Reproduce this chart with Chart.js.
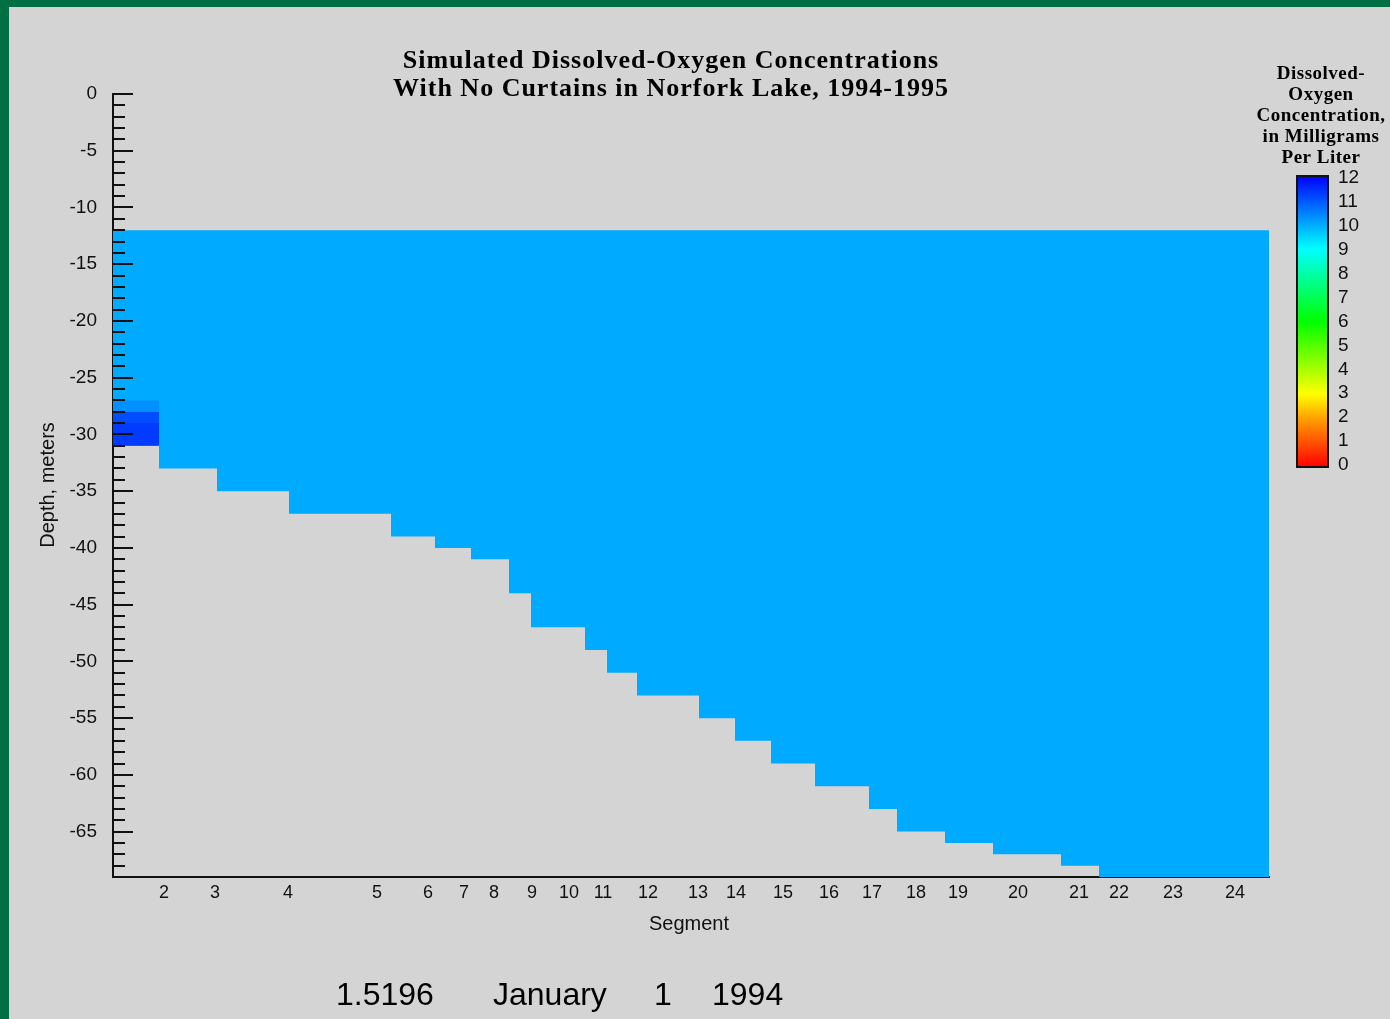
<!DOCTYPE html>
<html>
<head>
<meta charset="utf-8">
<script src="https://cdn.jsdelivr.net/npm/chart.js@4.4.0/dist/chart.umd.min.js"></script>
<style>
  html, body { margin: 0; padding: 0; background: #006f44; overflow: hidden; }
  #paper { position: absolute; left: 9px; top: 7px; right: 0; bottom: 0; background: #d4d4d4; }
  canvas { position: absolute; left: 0; top: 0; }
</style>
</head>
<body>
<div id="paper"></div>
<canvas id="doChart" width="1390" height="1019"></canvas>
<script>
// left edge of each model column, distance along the lake (last value = downstream end)
const segEdges = [0, 4.6, 10.4, 17.6, 27.8, 32.2, 35.8, 39.6, 41.8, 47.2, 49.4, 52.4, 58.6, 62.2, 65.8, 70.2, 75.6, 78.4, 83.2, 88.0, 94.8, 98.6, 115.6];
// bottom elevation of each column, meters
const segBottom = [-31, -33, -35, -37, -39, -40, -41, -44, -47, -49, -51, -53, -55, -57, -59, -61, -63, -65, -66, -67, -68, -69];
const segLabels = ['2', '3', '4', '5', '6', '7', '8', '9', '10', '11', '12', '13', '14', '15', '16', '17', '18', '19', '20', '21', '22', '23', '24'];
const segLabelPos = [5.1, 10.2, 17.5, 26.4, 31.5, 35.1, 38.1, 41.9, 45.6, 49.0, 53.5, 58.5, 62.3, 67.0, 71.6, 75.9, 80.3, 84.5, 90.5, 96.6, 100.6, 106.0, 112.2];

const waterSurface = -12;
const bulkDO = 10.0;

// segment 1, deep layers
const seg1LayerTop = [-27, -28, -29];
const seg1LayerBottom = [-28, -29, -31];
const seg1LayerDO = [10.3, 11.1, 11.3];

const depthTicks = [0, -5, -10, -15, -20, -25, -30, -35, -40, -45, -50, -55, -60, -65];
const cbarTicks = [0, 1, 2, 3, 4, 5, 6, 7, 8, 9, 10, 11, 12];

// colour scale of the legend bar
const cmapVals = [0, 2, 3, 6, 9, 12];
const cmapColors = ['#ff0000', '#ffa000', '#ffff00', '#00ff00', '#00ffff', '#0000ff'];

function hexToRgb(h) {
    return [parseInt(h.slice(1, 3), 16), parseInt(h.slice(3, 5), 16), parseInt(h.slice(5, 7), 16)];
}

function doColor(v) {
    if (v <= cmapVals[0]) return cmapColors[0];
    for (let i = 1; i < cmapVals.length; i++) {
        if (v <= cmapVals[i]) {
            const t = (v - cmapVals[i - 1]) / (cmapVals[i] - cmapVals[i - 1]);
            const a = hexToRgb(cmapColors[i - 1]), b = hexToRgb(cmapColors[i]);
            const c = a.map((x, k) => Math.round(x + (b[k] - x) * t));
            return `rgb(${c[0]}, ${c[1]}, ${c[2]})`;
        }
    }
    return cmapColors[cmapColors.length - 1];
}

const bulkPoints = segBottom.map((d, i) => ({ x: segEdges[i], y: d }));
bulkPoints.push({ x: segEdges[segEdges.length - 1], y: segBottom[segBottom.length - 1] });

const datasets = [];
seg1LayerDO.forEach((v, i) => {
    datasets.push({
        data: [{ x: segEdges[0], y: seg1LayerBottom[i] }, { x: segEdges[1], y: seg1LayerBottom[i] }],
        fill: { value: seg1LayerTop[i] },
        backgroundColor: doColor(v),
        borderColor: 'rgba(0,0,0,0)',
        borderWidth: 0,
        pointRadius: 0,
        order: 1
    });
});
datasets.push({
    data: bulkPoints,
    stepped: true,
    fill: { value: waterSurface },
    backgroundColor: doColor(bulkDO),
    borderColor: 'rgba(0,0,0,0)',
    borderWidth: 0,
    pointRadius: 0,
    order: 2
});

const ink = '#111';
const sans = '"Liberation Sans", Arial, sans-serif';
const serif = '"Liberation Serif", "Times New Roman", serif';

const overlay = {
    id: 'overlay',
    afterDatasetsDraw(chart) {
        const { ctx, chartArea, scales } = chart;
        ctx.save();
        ctx.strokeStyle = ink;
        ctx.lineWidth = 2;
        for (let d = 0; d > scales.y.min; d--) {
            const y = Math.round(scales.y.getPixelForValue(d));
            const len = d % 5 === 0 ? 20 : 12;
            ctx.beginPath();
            ctx.moveTo(chartArea.left, y);
            ctx.lineTo(chartArea.left + len, y);
            ctx.stroke();
        }
        ctx.restore();
    },
    afterDraw(chart) {
        const { ctx, chartArea } = chart;
        ctx.save();
        ctx.fillStyle = '#000';

        // title
        ctx.font = `bold 26px ${serif}`;
        ctx.letterSpacing = '1px';
        ctx.textAlign = 'center';
        ctx.textBaseline = 'alphabetic';
        ctx.fillText('Simulated Dissolved-Oxygen Concentrations', 671, 68);
        ctx.fillText('With No Curtains in Norfork Lake, 1994-1995', 671, 96);

        // legend title
        ctx.font = `bold 19px ${serif}`;
        ctx.letterSpacing = '0.5px';
        ['Dissolved-', 'Oxygen', 'Concentration,', 'in Milligrams', 'Per Liter'].forEach((s, i) => {
            ctx.fillText(s, 1321, 79 + i * 21);
        });
        ctx.letterSpacing = '0px';

        // colour bar
        const cb = { x: 1297, y: 176, w: 31, h: 291 };
        const g = ctx.createLinearGradient(0, cb.y + cb.h, 0, cb.y);
        cmapVals.forEach((v, i) => g.addColorStop(v / 12, cmapColors[i]));
        ctx.fillStyle = g;
        ctx.fillRect(cb.x, cb.y, cb.w, cb.h);
        ctx.strokeStyle = ink;
        ctx.lineWidth = 2;
        ctx.strokeRect(cb.x, cb.y, cb.w, cb.h);
        ctx.fillStyle = ink;
        ctx.font = `19px ${sans}`;
        ctx.textAlign = 'left';
        ctx.textBaseline = 'middle';
        cbarTicks.forEach(v => {
            ctx.fillText(String(v), 1338, 465 - v * (287 / 12));
        });

        // axis titles
        ctx.font = `20px ${sans}`;
        ctx.textAlign = 'center';
        ctx.fillText('Segment', (chartArea.left + chartArea.right) / 2 - 2, 924);
        ctx.save();
        ctx.translate(48, 485);
        ctx.rotate(-Math.PI / 2);
        ctx.fillText('Depth, meters', 0, 0);
        ctx.restore();

        // time stamp
        ctx.font = `32px ${sans}`;
        ctx.textAlign = 'left';
        ctx.textBaseline = 'alphabetic';
        ctx.fillStyle = '#000';
        ctx.fillText('1.5196', 336, 1005);
        ctx.fillText('January', 493, 1005);
        ctx.fillText('1', 654, 1005);
        ctx.fillText('1994', 712, 1005);
        ctx.restore();
    }
};

new Chart(document.getElementById('doChart').getContext('2d'), {
    type: 'line',
    data: { datasets: datasets },
    options: {
        responsive: false,
        animation: false,
        devicePixelRatio: 1,
        events: [],
        layout: { padding: { left: 0, top: 94, right: 121, bottom: 0 } },
        plugins: {
            legend: { display: false },
            tooltip: { enabled: false },
            title: { display: false }
        },
        scales: {
            x: {
                type: 'linear',
                min: segEdges[0],
                max: segEdges[segEdges.length - 1],
                afterBuildTicks: (scale) => { scale.ticks = segLabelPos.map(v => ({ value: v })); },
                afterFit: (scale) => { scale.height = 142; },
                ticks: {
                    autoSkip: false,
                    maxRotation: 0,
                    padding: 5,
                    color: ink,
                    font: { family: sans, size: 18 },
                    callback: (value, index) => segLabels[index]
                },
                grid: { display: true, drawOnChartArea: false, drawTicks: false },
                border: { display: true, color: ink, width: 2 }
            },
            y: {
                type: 'linear',
                min: -69,
                max: 0,
                afterBuildTicks: (scale) => { scale.ticks = depthTicks.map(v => ({ value: v })); },
                afterFit: (scale) => { scale.width = 113; },
                ticks: {
                    padding: 16,
                    color: ink,
                    font: { family: sans, size: 19 }
                },
                grid: { display: true, drawOnChartArea: false, drawTicks: false },
                border: { display: true, color: ink, width: 2 }
            }
        }
    },
    plugins: [overlay]
});
</script>
</body>
</html>
